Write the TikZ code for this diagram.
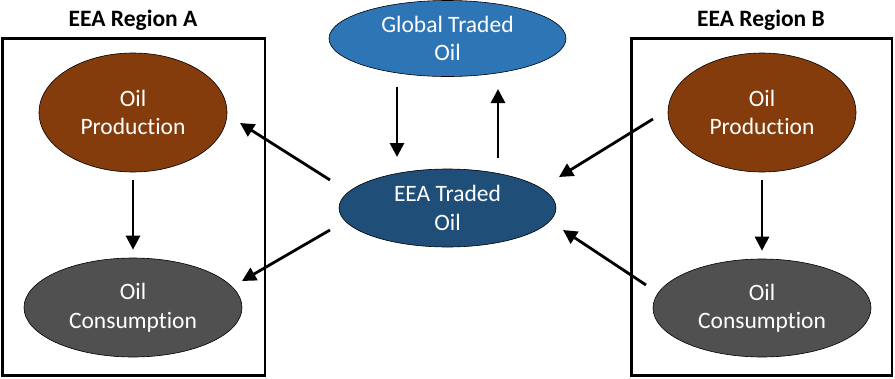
\documentclass[tikz,border=0pt]{standalone}
\usepackage{fontspec}
\setmainfont[Ligatures={NoCommon,NoContextual}]{Carlito}
\usetikzlibrary{shapes.geometric,arrows.meta}

\definecolor{prodbrown}{HTML}{843C0C}
\definecolor{consgray}{HTML}{505050}
\definecolor{globalblue}{HTML}{2E75B6}
\definecolor{eeablue}{HTML}{1F4E79}

\begin{document}
\begin{tikzpicture}[%
      x=1pt, y=-1pt,
      oil/.style={%
        ellipse,
        draw          = black,
        line width    = 0.6pt,
        text          = white,
        align         = center,
        inner sep     = 0pt,
        font          = \fontsize{23.5}{28.5}\selectfont,
      },
      region/.style={%
        draw          = black,
        line width    = 2.8pt,
        inner sep     = 0pt,
      },
      title/.style={%
        anchor        = base,
        font          = \fontsize{23.5}{28}\selectfont\bfseries,
      },
      flow/.style={%
        -{Triangle[width=14pt,length=14pt]},
        line width    = 2.8pt,
      },
      ]

      \useasboundingbox (0,0) rectangle (895,378);

      % the two regions
      \node[region, minimum width=262.5pt, minimum height=337pt] (BoxA) at (133.75,207) {};
      \node[region, minimum width=260.5pt, minimum height=337pt] (BoxB) at (761.75,207) {};
      \node[title] (TitleA) at (133,26.5) {EEA Region A};
      \node[title] (TitleB) at (761,26.5) {EEA Region B};

      \node[oil, fill=prodbrown, minimum width=188pt, minimum height=119pt] (Prod-A) at (133,112.5) {Oil \\ Production};
      \node[oil, fill=consgray, minimum width=218pt, minimum height=99pt] (Cons-A) at (133,307.5) {Oil \\ Consumption};
      \node[oil, fill=prodbrown, minimum width=188pt, minimum height=119pt] (Prod-B) at (762,112.5) {Oil \\ Production};
      \node[oil, fill=consgray, minimum width=218pt, minimum height=98pt] (Cons-B) at (762,308) {Oil \\ Consumption};

      % traded oil
      \node[oil, fill=globalblue, minimum width=237pt, minimum height=76pt] (Glob-Oil) at (447.5,38.5) {Global Traded \\ Oil};
      \node[oil, fill=eeablue, minimum width=217pt, minimum height=78pt] (EEA-Oil) at (447.5,208) {EEA Traded \\ Oil};

      \draw[flow] ([shift={(-50.5,48.5)}]Glob-Oil.center) -- ([shift={(-50.5,-51)}]EEA-Oil.center);
      \draw[flow] ([shift={(50.5,-50)}]EEA-Oil.center) -- ([shift={(50.5,50.5)}]Glob-Oil.center);

      \draw[flow] ([shift={(-117.5,-28)}]EEA-Oil.center) -- ([shift={(107,10.5)}]Prod-A.center);
      \draw[flow] ([shift={(-117.5,22)}]EEA-Oil.center) -- ([shift={(109,-26.5)}]Cons-A.center);
      \draw[flow] ([shift={(-109,6.5)}]Prod-B.center) -- ([shift={(111.5,-31)}]EEA-Oil.center);
      \draw[flow] ([shift={(-116,-23)}]Cons-B.center) -- ([shift={(115.5,22)}]EEA-Oil.center);

      \draw[flow, shorten <=8pt, shorten >=8pt] (Prod-A.south) -- (Cons-A.north);
      \draw[flow, shorten <=8pt, shorten >=8pt] (Prod-B.south) -- (Cons-B.north);

    \end{tikzpicture}
\end{document}
